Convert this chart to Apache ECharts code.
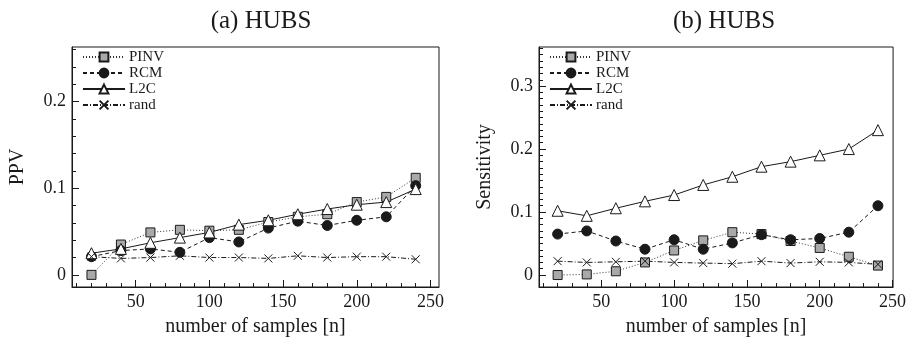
<!DOCTYPE html>
<html>
<head>
<meta charset="utf-8">
<script src="https://cdn.jsdelivr.net/npm/echarts@6/dist/echarts.min.js"></script>
<style>html,body{margin:0;padding:0;background:#fff}#c{width:909px;height:342px}</style>
</head>
<body>
<div id="c"></div>
<script>
// ---- data ----
const samples = [20, 40, 60, 80, 100, 120, 140, 160, 180, 200, 220, 240];
const seriesNames = ['PINV', 'RCM', 'L2C', 'rand'];
// (a) PPV
const ppvPINV = [0.000, 0.035, 0.049, 0.052, 0.051, 0.052, 0.061, 0.067, 0.070, 0.084, 0.090, 0.112];
const ppvRCM  = [0.021, 0.028, 0.030, 0.026, 0.043, 0.038, 0.054, 0.062, 0.057, 0.063, 0.067, 0.103];
const ppvL2C  = [0.025, 0.030, 0.037, 0.043, 0.049, 0.058, 0.063, 0.070, 0.076, 0.081, 0.084, 0.099];
const ppvRand = [0.021, 0.019, 0.020, 0.022, 0.020, 0.020, 0.019, 0.022, 0.020, 0.021, 0.021, 0.018];
// (b) Sensitivity
const senPINV = [0.000, 0.001, 0.006, 0.020, 0.039, 0.055, 0.068, 0.065, 0.054, 0.043, 0.029, 0.015];
const senRCM  = [0.065, 0.070, 0.054, 0.041, 0.056, 0.041, 0.051, 0.064, 0.056, 0.058, 0.068, 0.110];
const senL2C  = [0.102, 0.094, 0.106, 0.117, 0.127, 0.143, 0.156, 0.172, 0.180, 0.190, 0.200, 0.230];
const senRand = [0.022, 0.020, 0.021, 0.022, 0.020, 0.019, 0.018, 0.022, 0.019, 0.021, 0.020, 0.017];
// ticks
const xMajorTicks = [50, 100, 150, 200, 250];
const xMinorTicks = [10,20,30,40,60,70,80,90,110,120,130,140,160,170,180,190,210,220,230,240];
const ppvMajorTicks = [0, 0.1, 0.2];
const senMajorTicks = [0, 0.1, 0.2, 0.3];
const titles = ['(a) HUBS', '(b) HUBS'];
const yNames = ['PPV', 'Sensitivity'];
const xName = 'number of samples [n]';

// ---- chart ----
const FONT = 'Liberation Serif';
const INK = '#1a1a1a';
function range(a, b, step) { const r = []; for (let v = a; v <= b + 1e-9; v += step) r.push(+v.toFixed(4)); return r; }
const ppvMinorTicks = range(0, 0.26, 0.02).filter(v => ppvMajorTicks.indexOf(v) < 0);
const senMinorTicks = range(0, 0.36, 0.01).filter(v => senMajorTicks.map(x=>Math.round(x*100)).indexOf(Math.round(v*100)) < 0);

const grids = [
  { left: 72, top: 47, width: 367, height: 241, show: true, borderColor: INK, borderWidth: 1, backgroundColor: 'transparent' },
  { left: 539, top: 47, width: 360, height: 241, show: true, borderColor: INK, borderWidth: 1, backgroundColor: 'transparent' }
];
const xr = [[6.8, 255.8], [7.2, 250.4]];
const yr = [[-0.014, 0.263], [-0.019, 0.362]];
const yMaj = [ppvMajorTicks, senMajorTicks];
const yMin = [ppvMinorTicks, senMinorTicks];

const xAxes = [], yAxes = [];
for (let g = 0; g < 2; g++) {
  xAxes.push({
    type: 'value', gridIndex: g, position: 'bottom', offset: 0, min: xr[g][0], max: xr[g][1],
    name: xName, nameLocation: 'middle', nameGap: 30,
    nameTextStyle: { fontFamily: FONT, fontSize: 20, color: INK },
    axisLine: { show: true, onZero: false, lineStyle: { color: INK, width: 1 } },
    axisTick: { show: true, inside: true, length: 7, customValues: xMajorTicks, lineStyle: { color: INK } },
    axisLabel: { show: true, customValues: xMajorTicks, fontFamily: FONT, fontSize: 18, color: INK, margin: 6 },
    splitLine: { show: false }
  });
  xAxes.push({
    type: 'value', gridIndex: g, position: 'bottom', offset: 0, min: xr[g][0], max: xr[g][1],
    axisLine: { show: false, onZero: false },
    axisTick: { show: true, inside: true, length: 4, customValues: xMinorTicks, lineStyle: { color: INK } },
    axisLabel: { show: false }, splitLine: { show: false }
  });
  yAxes.push({
    type: 'value', gridIndex: g, position: 'left', offset: 0, min: yr[g][0], max: yr[g][1],
    name: yNames[g], nameLocation: 'middle', nameGap: 44, nameRotate: 90,
    nameTextStyle: { fontFamily: FONT, fontSize: 20, color: INK },
    axisLine: { show: true, onZero: false, lineStyle: { color: INK, width: 1 } },
    axisTick: { show: true, inside: true, length: 7, customValues: yMaj[g], lineStyle: { color: INK } },
    axisLabel: { show: true, customValues: yMaj[g], fontFamily: FONT, fontSize: 18, color: INK, margin: 6,
      formatter: v => (Math.abs(v) < 1e-9 ? '0' : (+v).toFixed(1)) },
    splitLine: { show: false }
  });
  yAxes.push({
    type: 'value', gridIndex: g, position: 'left', offset: 0, min: yr[g][0], max: yr[g][1],
    axisLine: { show: false, onZero: false },
    axisTick: { show: true, inside: true, length: 4, customValues: yMin[g], lineStyle: { color: INK } },
    axisLabel: { show: false }, splitLine: { show: false }
  });
}

const XPATH = 'path://M0,0 L10,10 M10,0 L0,10';
const styles = {
  PINV: { symbol: 'rect', symbolSize: 9, itemStyle: { color: '#a9a9a9', borderColor: INK, borderWidth: 1 },
          lineStyle: { color: '#333', width: 1, type: [1, 2] } },
  RCM:  { symbol: 'circle', symbolSize: 10, itemStyle: { color: INK, borderColor: INK, borderWidth: 1 },
          lineStyle: { color: INK, width: 1, type: [4, 3] } },
  L2C:  { symbol: 'triangle', symbolSize: 11, itemStyle: { color: '#fff', borderColor: INK, borderWidth: 1 },
          lineStyle: { color: INK, width: 1, type: 'solid' } },
  rand: { symbol: XPATH, symbolSize: 8, itemStyle: { color: '#fff', borderColor: INK, borderWidth: 1 },
          lineStyle: { color: INK, width: 1, type: [5, 2, 1, 2] } }
};
const dataSets = [
  { PINV: ppvPINV, RCM: ppvRCM, L2C: ppvL2C, rand: ppvRand },
  { PINV: senPINV, RCM: senRCM, L2C: senL2C, rand: senRand }
];
const series = [];
for (let g = 0; g < 2; g++) {
  seriesNames.forEach(n => {
    series.push(Object.assign({
      type: 'line', name: n, xAxisIndex: g * 2, yAxisIndex: g * 2,
      data: samples.map((x, i) => [x, dataSets[g][n][i]]),
      showAllSymbol: true, animation: false, z: 3,
      emphasis: { disabled: true }
    }, JSON.parse(JSON.stringify(styles[n])), { symbol: styles[n].symbol }));
  });
}

const legendBase = {
  orient: 'vertical', top: 49, padding: 0, itemWidth: 42, itemHeight: 11, itemGap: 0,
  data: seriesNames, selectedMode: false,
  textStyle: { fontFamily: FONT, fontSize: 15, lineHeight: 16, color: INK, padding: [0, 0, 0, -1] }
};
const chart = echarts.init(document.getElementById('c'), null, { renderer: 'canvas' });
chart.setOption({
  backgroundColor: '#fff',
  animation: false,
  title: [
    { text: titles[0], left: 256, top: 4, textAlign: 'center', textStyle: { fontFamily: FONT, fontWeight: 'normal', fontSize: 25, color: INK } },
    { text: titles[1], left: 719, top: 4, textAlign: 'center', textStyle: { fontFamily: FONT, fontWeight: 'normal', fontSize: 25, color: INK } }
  ],
  grid: grids,
  xAxis: xAxes,
  yAxis: yAxes,
  legend: [
    Object.assign({}, legendBase, { left: 82 }),
    Object.assign({}, legendBase, { left: 549 })
  ],
  series: series
});
</script>
</body>
</html>
